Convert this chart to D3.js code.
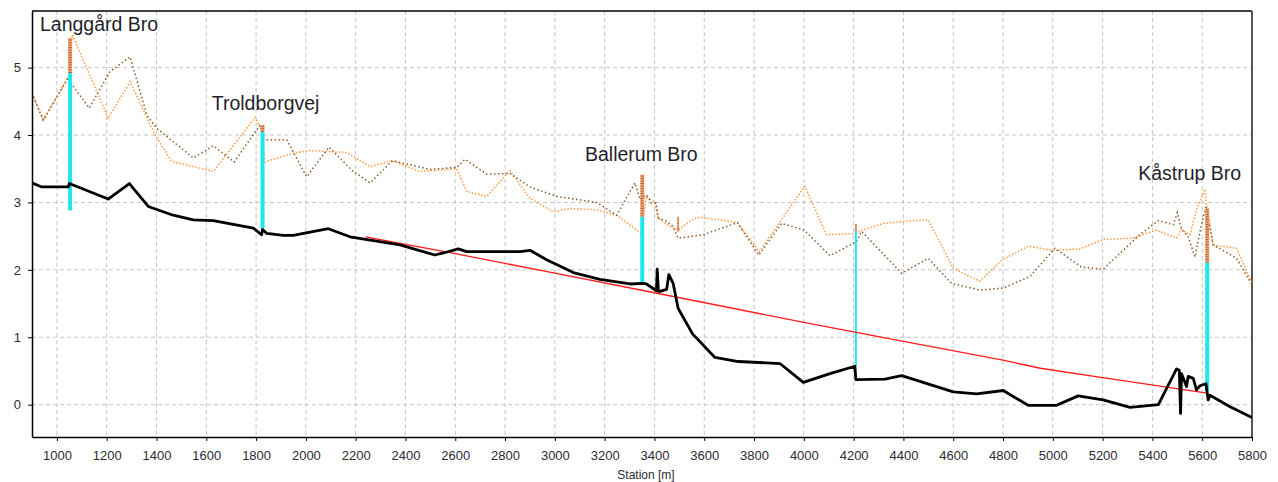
<!DOCTYPE html>
<html>
<head>
<meta charset="utf-8">
<script src="https://cdn.jsdelivr.net/npm/d3@7"></script>
<style>
  body { margin: 0; background: #fff; }
  svg { display: block; font-family: "Liberation Sans", Arial, sans-serif; }
  .tick text { fill: #2b2b33; font-size: 13px; }
  .tick line { stroke: #000; }
  .domain { stroke: #000; stroke-width: 1.5; }
</style>
</head>
<body>
<svg id="profile" width="1278" height="482"></svg>
<script>
// station [m], level [m]
const ground = [[900,3.29],[939,3.23],[1046,3.23],[1050,3.28],[1206,3.05],[1291,3.28],[1367,2.94],[1467,2.81],[1548,2.74],[1628,2.73],[1789,2.62],[1822,2.52],[1826,2.60],[1843,2.54],[1909,2.51],[1949,2.51],[2090,2.61],[2177,2.49],[2378,2.37],[2518,2.22],[2552,2.25],[2612,2.31],[2646,2.27],[2860,2.27],[2900,2.29],[2967,2.15],[3074,1.96],[3181,1.86],[3302,1.79],[3352,1.80],[3368,1.79],[3408,1.69],[3411,2.01],[3416,1.68],[3422,1.68],[3449,1.71],[3458,1.93],[3475,1.80],[3495,1.43],[3553,1.05],[3643,0.70],[3737,0.64],[3904,0.61],[3998,0.33],[4105,0.46],[4205,0.57],[4209,0.37],[4326,0.38],[4393,0.43],[4600,0.19],[4694,0.16],[4801,0.21],[4901,-0.01],[5015,-0.01],[5102,0.13],[5202,0.07],[5310,-0.04],[5424,0.00],[5497,0.53],[5508,0.51],[5513,-0.13],[5517,0.46],[5537,0.27],[5544,0.42],[5564,0.39],[5577,0.22],[5591,0.28],[5615,0.31],[5624,0.07],[5631,0.14],[5712,-0.03],[5800,-0.19]];

const gradient = [[2240,2.49],[2600,2.24],[3000,1.95],[3400,1.66],[4000,1.22],[4400,0.94],[4800,0.66],[4950,0.54],[5200,0.40],[5620,0.17]];

const levelBrown = [[900,4.62],[945,4.22],[1046,4.85],[1060,4.75],[1130,4.40],[1213,4.94],[1294,5.16],[1361,4.30],[1401,4.10],[1548,3.66],[1628,3.84],[1712,3.60],[1816,4.15],[1829,3.93],[1923,3.93],[2003,3.38],[2093,3.82],[2184,3.48],[2258,3.29],[2348,3.62],[2498,3.49],[2606,3.52],[2639,3.64],[2726,3.42],[2820,3.43],[2900,3.23],[3007,3.09],[3168,3.00],[3248,2.81],[3322,3.29],[3342,3.04],[3368,3.11],[3388,2.99],[3406,2.99],[3415,2.77],[3449,2.72],[3475,2.64],[3495,2.47],[3596,2.52],[3733,2.70],[3819,2.22],[3911,2.69],[4001,2.59],[4105,2.21],[4212,2.42],[4232,2.57],[4393,1.95],[4500,2.17],[4593,1.80],[4707,1.70],[4801,1.73],[4908,1.90],[5008,2.32],[5115,2.04],[5202,2.01],[5349,2.52],[5424,2.73],[5484,2.67],[5500,2.85],[5517,2.60],[5544,2.49],[5571,2.19],[5597,2.67],[5615,2.94],[5644,2.37],[5738,2.17],[5800,1.78]];

const levelOrange = [[900,4.62],[945,4.22],[1046,4.87],[1062,5.49],[1206,4.25],[1294,4.79],[1394,4.00],[1461,3.61],[1628,3.46],[1796,4.26],[1822,4.08],[1836,3.60],[1949,3.73],[2016,3.77],[2164,3.74],[2258,3.53],[2345,3.62],[2458,3.46],[2539,3.48],[2606,3.50],[2646,3.16],[2726,3.09],[2820,3.47],[2900,3.06],[2994,2.86],[3061,2.91],[3168,2.89],[3248,2.81],[3346,2.54],[3368,3.09],[3402,2.99],[3415,2.77],[3462,2.64],[3495,2.59],[3542,2.72],[3569,2.78],[3666,2.74],[3733,2.70],[3821,2.27],[4004,3.24],[4091,2.52],[4198,2.54],[4239,2.59],[4319,2.69],[4413,2.72],[4500,2.74],[4600,2.02],[4707,1.83],[4794,2.14],[4901,2.35],[5001,2.29],[5108,2.31],[5202,2.45],[5322,2.47],[5416,2.59],[5497,2.47],[5517,2.60],[5551,2.52],[5577,2.89],[5611,3.20],[5617,2.99],[5644,2.37],[5738,2.32],[5800,1.80]];

// station, bottom, middle, top, name
const bridges = [
  [1053, 2.88, 4.92, 5.44, "Langgård Bro"],
  [1826, 2.62, 4.05, 4.15, "Troldborgvej"],
  [3351, 1.80, 2.79, 3.41, "Ballerum Bro"],
  [3495, 2.57, 2.57, 2.79, ""],
  [4209, 0.57, 2.58, 2.68, ""],
  [5620, 0.20, 2.11, 2.91, "Kåstrup Bro"]
];

// label text, station of left edge, level of baseline
const labels = [
  ["Langgård Bro", 932, 5.54],
  ["Troldborgvej", 1622, 4.37],
  ["Ballerum Bro", 3121, 3.61],
  ["Kåstrup Bro", 5343, 3.33]
];

const xTicks = d3.range(1000, 5801, 200);
const yTicks = [0, 1, 2, 3, 4, 5];

const svg = d3.select('#profile');
const x = d3.scaleLinear().domain([900, 5800]).range([32, 1252]);
const y = d3.scaleLinear().domain([-0.48, 5.84]).range([437, 11]);

// grid
svg.append('g')
  .selectAll('line')
  .data(xTicks.filter(d => d < 5800))
  .enter().append('line')
  .attr('x1', d => x(d)).attr('x2', d => x(d))
  .attr('y1', y.range()[1]).attr('y2', y.range()[0])
  .attr('stroke', '#c4c4c4').attr('stroke-dasharray', '4,3');
svg.append('g')
  .selectAll('line')
  .data(yTicks)
  .enter().append('line')
  .attr('x1', x.range()[0]).attr('x2', x.range()[1])
  .attr('y1', d => y(d)).attr('y2', d => y(d))
  .attr('stroke', '#c4c4c4').attr('stroke-dasharray', '4,3');

// frame top/right
svg.append('line')
  .attr('x1', x.range()[0]).attr('x2', x.range()[1])
  .attr('y1', y.range()[1]).attr('y2', y.range()[1])
  .attr('stroke', '#000').attr('stroke-width', 1.5);
svg.append('line')
  .attr('x1', x.range()[1]).attr('x2', x.range()[1])
  .attr('y1', y.range()[1]).attr('y2', y.range()[0])
  .attr('stroke', '#555').attr('stroke-width', 2);

svg.append('clipPath').attr('id', 'plotclip')
  .append('rect')
  .attr('x', x.range()[0]).attr('y', y.range()[1])
  .attr('width', x.range()[1] - x.range()[0])
  .attr('height', y.range()[0] - y.range()[1]);

const plot = svg.append('g').attr('clip-path', 'url(#plotclip)');
const line = d3.line().x(d => x(d[0])).y(d => y(d[1]));

plot.append('path').datum(levelOrange)
  .attr('d', line).attr('fill', 'none')
  .attr('stroke', '#ff9a3c').attr('stroke-width', 1.5)
  .attr('stroke-dasharray', '1.5,1.8');
plot.append('path').datum(levelBrown)
  .attr('d', line).attr('fill', 'none')
  .attr('stroke', '#8c5a2e').attr('stroke-width', 1.5)
  .attr('stroke-dasharray', '1.5,2.5');

// bridges
const br = plot.append('g').selectAll('g')
  .data(bridges)
  .enter().append('g');
br.append('line')
  .attr('x1', d => x(d[0])).attr('x2', d => x(d[0]))
  .attr('y1', d => y(d[1])).attr('y2', d => y(d[2]))
  .attr('stroke', '#1ee8ee')
  .attr('stroke-width', d => d[4] ? 4 : 2);
br.append('line')
  .attr('x1', d => x(d[0])).attr('x2', d => x(d[0]))
  .attr('y1', d => y(d[2])).attr('y2', d => y(d[3]))
  .attr('stroke', '#f3a27c')
  .attr('stroke-width', d => d[4] ? 4 : 2);
br.append('line')
  .attr('x1', d => x(d[0])).attr('x2', d => x(d[0]))
  .attr('y1', d => y(d[2])).attr('y2', d => y(d[3]))
  .attr('stroke', '#b86420')
  .attr('stroke-width', d => d[4] ? 3 : 1.5)
  .attr('stroke-dasharray', '1,1.5');

plot.append('path').datum(gradient)
  .attr('d', line).attr('fill', 'none')
  .attr('stroke', '#ff1a1a').attr('stroke-width', 1.3);

plot.append('path').datum(ground)
  .attr('d', line).attr('fill', 'none')
  .attr('stroke', '#000').attr('stroke-width', 2.8)
  .attr('stroke-linejoin', 'round');

// axes
svg.append('g')
  .attr('transform', `translate(${x.range()[0]},0)`)
  .call(d3.axisLeft(y).tickValues(yTicks).tickSize(4).tickPadding(7).tickSizeOuter(0).tickFormat(d3.format('d')));
svg.append('g')
  .attr('transform', `translate(0,${y.range()[0]})`)
  .call(d3.axisBottom(x).tickValues(xTicks).tickSize(4).tickPadding(10).tickSizeOuter(0).tickFormat(d3.format('d')));

svg.append('text')
  .attr('x', (x.range()[0] + x.range()[1]) / 2 + 4)
  .attr('y', 479)
  .attr('text-anchor', 'middle')
  .attr('font-size', 12)
  .attr('fill', '#2b2b33')
  .text('Station [m]');

// bridge names
svg.append('g').selectAll('text')
  .data(labels)
  .enter().append('text')
  .attr('x', d => x(d[1]))
  .attr('y', d => y(d[2]))
  .attr('font-size', 19.5)
  .attr('fill', '#1f1f2a')
  .text(d => d[0]);
</script>
</body>
</html>
